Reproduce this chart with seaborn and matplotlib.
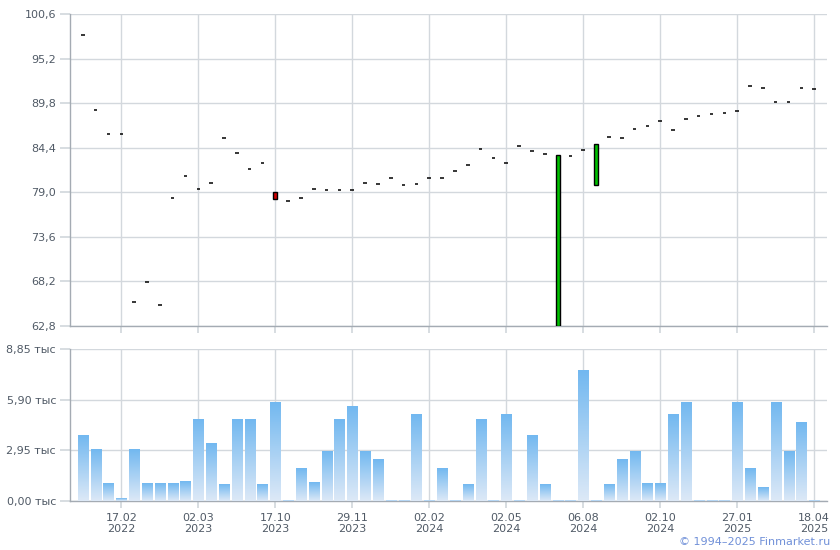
import numpy as np
import matplotlib
matplotlib.use('Agg')
import matplotlib.pyplot as plt
import seaborn as sns
from matplotlib.colors import LinearSegmentedColormap

# ── Data ──────────────────────────────────────────────────────────────────────
closes = [98.0, 89.0, 86.0, 86.0, 65.7, 68.1, 65.4, 78.3, 81.0, 79.45,
          80.1, 85.6, 83.8, 81.8, 82.5, 78.2, 77.9, 78.35, 79.45, 79.33,
          79.33, 79.33, 80.18, 80.05, 80.67, 79.93, 80.05, 80.67, 80.67, 81.52,
          82.25, 84.2, 83.1, 82.6, 84.56, 83.95, 83.59, 83.5, 83.35, 84.16,
          84.8, 85.66, 85.54, 86.63, 87.0, 87.6, 86.5, 87.85, 88.2, 88.46,
          88.6, 88.83, 91.83, 91.63, 89.92, 89.92, 91.59, 91.5]
# opens that differ from close (real candle bodies)
candle_opens = {15: 79.0, 37: 62.8, 40: 79.85}

volumes = [3.82, 3.0, 1.01, 0.14, 3.0, 1.01, 1.01, 1.01, 1.13, 4.75,
           3.35, 0.95, 4.75, 4.75, 0.95, 5.74, 0.05, 1.89, 1.07, 2.88,
           4.75, 5.51, 2.88, 2.41, 0.05, 0.05, 5.04, 0.05, 1.89, 0.05,
           0.95, 4.75, 0.05, 5.04, 0.05, 3.82, 0.95, 0.05, 0.05, 7.61,
           0.05, 0.95, 2.41, 2.88, 1.01, 1.01, 5.04, 5.74, 0.05, 0.05,
           0.05, 5.74, 1.89, 0.78, 5.74, 2.88, 4.58, 0.05]

date_idx = [3, 9, 15, 21, 27, 33, 39, 45, 51, 57]
date_labels = ['17.02\n2022', '02.03\n2023', '17.10\n2023', '29.11\n2023',
               '02.02\n2024', '02.05\n2024', '06.08\n2024', '02.10\n2024',
               '27.01\n2025', '18.04\n2025']

price_ticks = [62.8, 68.2, 73.6, 79.0, 84.4, 89.8, 95.2, 100.6]
vol_ticks = [0.0, 2.95, 5.90, 8.85]

# ── Style ─────────────────────────────────────────────────────────────────────
sns.set_theme(style='white')
plt.rcParams['font.family'] = ['DejaVu Sans']
grid_c = '#d3d8dd'
spine_c = '#a4abb3'
text_c = '#505a66'

fig = plt.figure(figsize=(8.4, 5.5), dpi=100)
ax1 = fig.add_axes([70/840, 0.4073, 757/840, 0.5673])
ax2 = fig.add_axes([70/840, 0.0891, 757/840, 0.2764])

x = np.arange(len(closes))

# ── Top: price candles ────────────────────────────────────────────────────────
for i, c in enumerate(closes):
    if i in candle_opens:
        o = candle_opens[i]
        col = '#00c000' if c > o else '#d00000'
        ax1.bar(i, abs(c - o), bottom=min(o, c), width=0.32, color=col,
                edgecolor='black', linewidth=1.0, zorder=3)
dash_x = [i for i in x if i not in candle_opens]
ax1.hlines([closes[i] for i in dash_x],
           [i - 0.14 for i in dash_x], [i + 0.14 for i in dash_x],
           color='black', linewidth=1.1, zorder=3)

ax1.set_ylim(62.8, 100.6)
ax1.set_yticks(price_ticks)
ax1.set_yticklabels([f'{v:.1f}'.replace('.', ',') for v in price_ticks])

# ── Bottom: volume with gradient bars ─────────────────────────────────────────
sns.barplot(x=x, y=volumes, ax=ax2, width=0.78, color='#72b8f0',
            linewidth=0, native_scale=True)
cmap = LinearSegmentedColormap.from_list('vol', ['#dde9f7', '#72b8f0'])
grad = np.linspace(1, 0, 256).reshape(-1, 1)
for p in list(ax2.patches):
    x0, y0, w, h = p.get_x(), p.get_y(), p.get_width(), p.get_height()
    ax2.imshow(grad, cmap=cmap, extent=[x0, x0 + w, y0, y0 + h],
               aspect='auto', origin='upper', zorder=3)
    p.set_visible(False)

ax2.set_ylim(0, 8.85)
ax2.set_yticks(vol_ticks)
ax2.set_yticklabels([f'{v:.2f}'.replace('.', ',') + ' тыс' for v in vol_ticks])

# ── Shared axis formatting ────────────────────────────────────────────────────
for ax in (ax1, ax2):
    ax.set_xlim(-1.0, 58.0)
    ax.set_xticks(date_idx)
    ax.grid(True, color=grid_c, linewidth=1.0, zorder=0)
    ax.set_axisbelow(True)
    for s in ('top', 'right'):
        ax.spines[s].set_visible(False)
    for s in ('left', 'bottom'):
        ax.spines[s].set_color(spine_c)
        ax.spines[s].set_linewidth(1.0)
    ax.tick_params(axis='y', length=7, color=grid_c, labelsize=8,
                   labelcolor=text_c, pad=3, left=True)
    ax.tick_params(axis='x', length=5, color=grid_c, labelsize=8,
                   labelcolor=text_c, bottom=True)
    ax.set_xlabel('')
    ax.set_ylabel('')

ax1.set_xticklabels([])
ax2.set_xticklabels(date_labels, linespacing=1.1)

fig.text(0.988, 0.0145, '© 1994–2025 Finmarket.ru', ha='right', va='center',
         color='#7090d8', fontsize=8)

plt.savefig('out.png', dpi=100)
plt.close()
